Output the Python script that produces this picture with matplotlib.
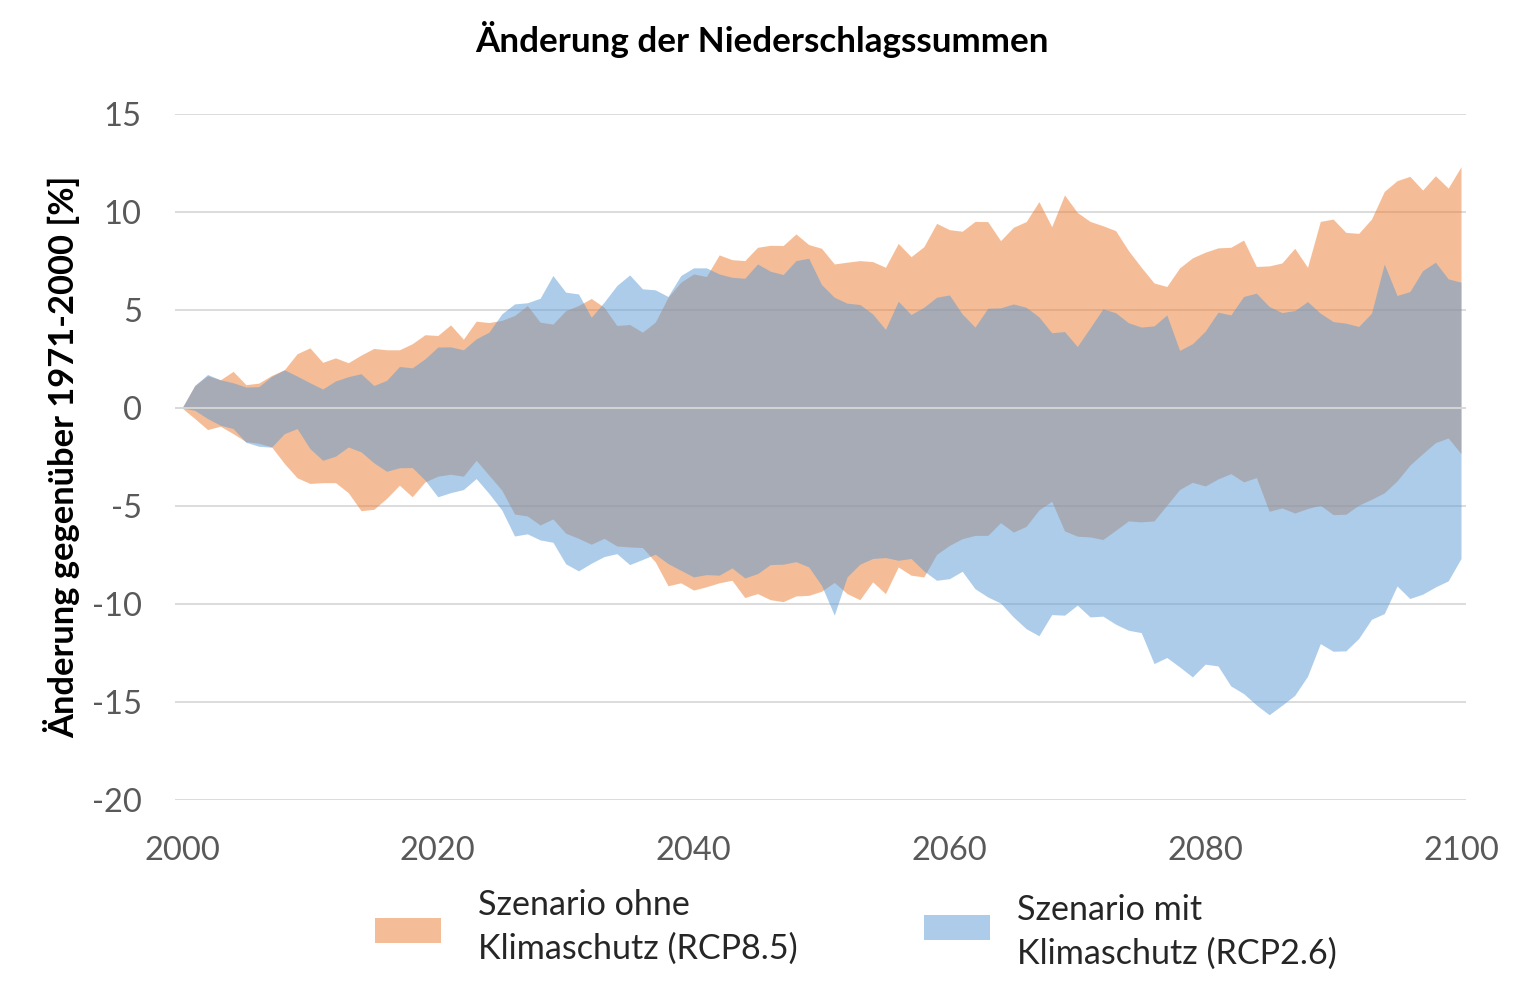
import matplotlib
matplotlib.use("Agg")
import matplotlib.pyplot as plt
from matplotlib.patches import Rectangle
import numpy as np

# Jahre 2000 - 2100
jahre = np.arange(2000, 2101)

# Szenario ohne Klimaschutz (RCP8.5): obere / untere Grenze
rcp85_hoch = [
    0, 1.15, 1.65, 1.44, 1.87, 1.19, 1.27, 1.66, 1.95, 2.77,
    3.07, 2.33, 2.56, 2.31, 2.70, 3.04, 2.97, 2.97, 3.28, 3.74,
    3.70, 4.24, 3.51, 4.43, 4.36, 4.47, 4.72, 5.23, 4.38, 4.28,
    4.97, 5.23, 5.59, 5.14, 4.21, 4.26, 3.87, 4.38, 5.65, 6.42,
    6.84, 6.71, 7.81, 7.57, 7.52, 8.20, 8.30, 8.29, 8.88, 8.34,
    8.15, 7.35, 7.44, 7.52, 7.47, 7.18, 8.40, 7.72, 8.23, 9.42,
    9.10, 9.02, 9.52, 9.51, 8.54, 9.22, 9.51, 10.53, 9.25, 10.87,
    9.98, 9.52, 9.30, 9.05, 8.03, 7.18, 6.38, 6.20, 7.15, 7.66,
    7.95, 8.17, 8.20, 8.57, 7.22, 7.25, 7.40, 8.15, 7.18, 9.52,
    9.64, 8.96, 8.91, 9.64, 11.05, 11.60, 11.82, 11.12, 11.85, 11.22,
    12.31,
]
rcp85_tief = [
    0, -0.54, -1.10, -0.93, -1.31, -1.72, -1.80, -1.98, -2.83, -3.56,
    -3.85, -3.81, -3.81, -4.32, -5.24, -5.17, -4.61, -3.94, -4.53, -3.77,
    -3.48, -3.38, -3.48, -2.67, -3.43, -4.19, -5.41, -5.51, -5.97, -5.66,
    -6.39, -6.65, -6.95, -6.65, -7.04, -7.09, -7.12, -7.85, -9.07, -8.92,
    -9.29, -9.12, -8.92, -8.79, -9.67, -9.47, -9.78, -9.88, -9.59, -9.56,
    -9.35, -8.90, -9.47, -9.78, -8.87, -9.47, -8.11, -8.53, -8.62, -7.47,
    -7.01, -6.67, -6.50, -6.50, -5.85, -6.33, -6.04, -5.20, -4.76, -6.27,
    -6.54, -6.58, -6.71, -6.24, -5.76, -5.81, -5.76, -4.96, -4.16, -3.79,
    -3.98, -3.62, -3.35, -3.77, -3.55, -5.27, -5.10, -5.36, -5.13, -4.96,
    -5.44, -5.42, -4.96, -4.66, -4.33, -3.72, -2.92, -2.33, -1.77, -1.53,
    -2.33,
]

# Szenario mit Klimaschutz (RCP2.6): obere / untere Grenze
rcp26_hoch = [
    0, 1.15, 1.71, 1.44, 1.29, 1.07, 1.09, 1.61, 1.95, 1.63,
    1.29, 0.97, 1.38, 1.60, 1.75, 1.15, 1.41, 2.12, 2.05, 2.51,
    3.11, 3.12, 2.97, 3.53, 3.87, 4.80, 5.31, 5.37, 5.60, 6.76,
    5.91, 5.82, 4.63, 5.40, 6.25, 6.79, 6.08, 6.03, 5.69, 6.76,
    7.15, 7.15, 6.84, 6.67, 6.62, 7.35, 6.98, 6.81, 7.52, 7.64,
    6.30, 5.65, 5.35, 5.28, 4.80, 4.01, 5.45, 4.77, 5.14, 5.65,
    5.77, 4.80, 4.13, 5.09, 5.11, 5.31, 5.14, 4.65, 3.84, 3.90,
    3.14, 4.09, 5.06, 4.86, 4.35, 4.13, 4.19, 4.75, 2.94, 3.28,
    3.92, 4.89, 4.75, 5.69, 5.86, 5.18, 4.87, 4.97, 5.43, 4.84,
    4.41, 4.33, 4.16, 4.84, 7.35, 5.74, 5.94, 7.01, 7.44, 6.59,
    6.42,
]
rcp26_tief = [
    0, -0.12, -0.54, -0.88, -1.05, -1.75, -1.95, -2.00, -1.31, -1.05,
    -2.07, -2.67, -2.46, -1.99, -2.24, -2.80, -3.23, -3.05, -3.04, -3.68,
    -4.53, -4.32, -4.16, -3.60, -4.36, -5.20, -6.53, -6.42, -6.73, -6.85,
    -7.95, -8.31, -7.92, -7.58, -7.43, -7.99, -7.73, -7.46, -7.94, -8.28,
    -8.62, -8.50, -8.53, -8.16, -8.67, -8.45, -7.99, -7.97, -7.84, -8.11,
    -9.05, -10.57, -8.62, -7.97, -7.68, -7.63, -7.77, -7.68, -8.31, -8.79,
    -8.71, -8.33, -9.22, -9.64, -9.95, -10.66, -11.26, -11.62, -10.54, -10.57,
    -10.06, -10.66, -10.62, -11.03, -11.34, -11.46, -13.04, -12.73, -13.21, -13.72,
    -13.07, -13.16, -14.18, -14.57, -15.15, -15.65, -15.17, -14.66, -13.69, -12.02,
    -12.41, -12.39, -11.76, -10.78, -10.49, -9.08, -9.72, -9.50, -9.13, -8.82,
    -7.68,
]

orange = "#ED7D31"
blau = "#5B9BD5"
grau_text = "#595959"
gitter = "#D9D9D9"

plt.rcParams["font.family"] = ["Lato", "DejaVu Sans"]
plt.rcParams["axes.unicode_minus"] = False

W, H = 1526, 985
fig = plt.figure(figsize=(W / 100, H / 100), dpi=100)
ax = fig.add_axes([175 / W, 1 - 800 / H, (1466 - 175) / W, (800 - 114) / H])

ax.fill_between(jahre, rcp85_tief, rcp85_hoch, color=orange, alpha=0.5, linewidth=0, zorder=2)
ax.fill_between(jahre, rcp26_tief, rcp26_hoch, color=blau, alpha=0.5, linewidth=0, zorder=3)
ax.axhline(0, color=gitter, linewidth=1.3, zorder=4)

ax.set_xlim(2000 - 7 / 12.79, 2100 + 5 / 12.79)
ax.set_ylim(-20, 15)
ax.set_xticks(range(2000, 2101, 20))
ax.set_yticks(range(-20, 16, 5))
ax.grid(axis="y", color=gitter, linewidth=1.3, zorder=0)
ax.set_axisbelow(True)
for s in ax.spines.values():
    s.set_visible(False)
ax.tick_params(length=0, labelsize=23.5, colors=grau_text)
ax.tick_params(axis="y", pad=24)
ax.tick_params(axis="x", pad=26)

ax.set_ylabel("Änderung gegenüber 1971-2000 [%]", fontsize=24.8, fontweight="bold",
              color="black", labelpad=8)
fig.text(762 / W, 1 - 40 / H, "Änderung der Niederschlagssummen", ha="center",
         va="center", fontsize=25.2, fontweight="bold", color="black")

# Legende von Hand
legende = [
    (orange, 375, 918, "Szenario ohne\nKlimaschutz (RCP8.5)", 478, 927),
    (blau, 924, 915, "Szenario mit\nKlimaschutz (RCP2.6)", 1017, 932),
]
for farbe, px, py, text, tx, ty in legende:
    fig.add_artist(Rectangle((px / W, 1 - (py + 25) / H), 66 / W, 25 / H,
                             transform=fig.transFigure, facecolor=farbe,
                             alpha=0.5, edgecolor="none"))
    fig.text(tx / W, 1 - ty / H, text, ha="left", va="center", fontsize=24.6,
             color="#262626", linespacing=1.42)

fig.savefig("out.png", dpi=100)
